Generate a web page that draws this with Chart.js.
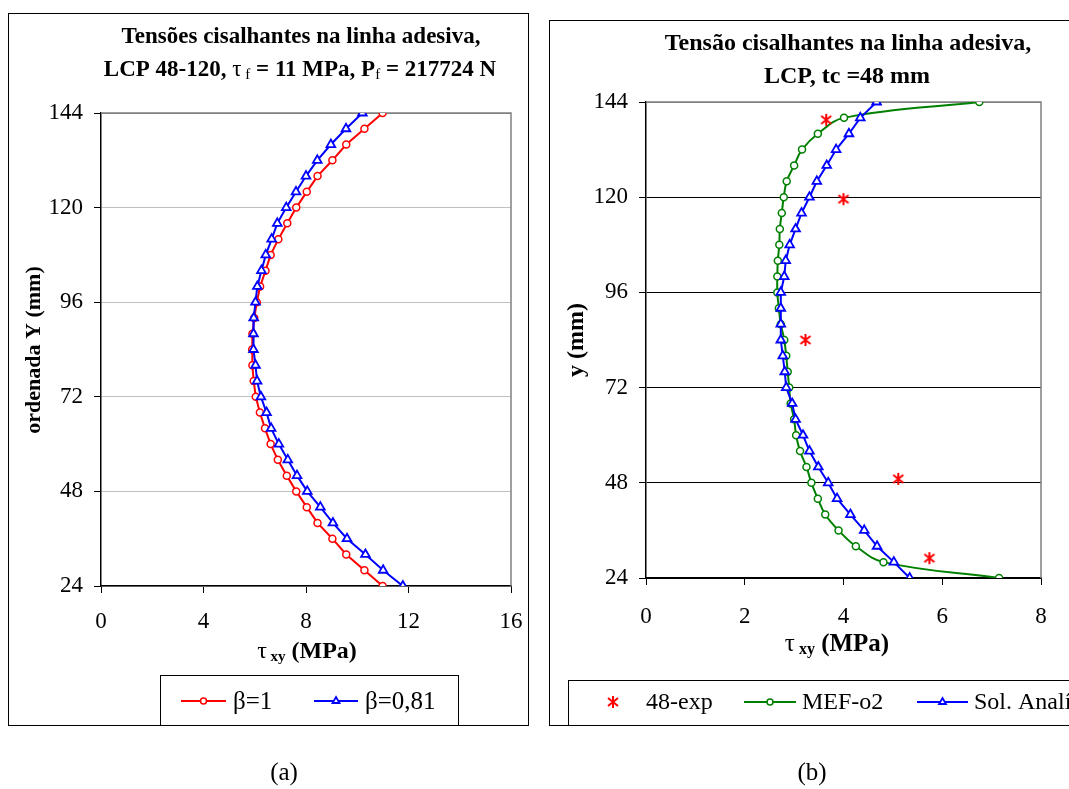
<!DOCTYPE html>
<html>
<head>
<meta charset="utf-8">
<script src="https://cdn.jsdelivr.net/npm/chart.js@4.4.0/dist/chart.umd.min.js"></script>
<style>
  html, body { margin: 0; padding: 0; background: #fff; width: 1069px; height: 789px; overflow: hidden; }
  .frame { position: absolute; border: 1.5px solid #000; box-sizing: border-box; }
  canvas { position: absolute; top: 0; }
  .cap { position: absolute; top: 758px; width: 100px; text-align: center; font: 25px "Liberation Serif", serif; }
</style>
</head>
<body>
<div class="frame" style="left:8px;top:13px;width:521px;height:713px"></div>
<div class="frame" style="left:549px;top:20px;width:600px;height:706px"></div>
<canvas id="chartA" width="540" height="789" style="left:0"></canvas>
<canvas id="chartB" width="529" height="789" style="left:540px"></canvas>
<div class="cap" style="left:234px">(a)</div>
<div class="cap" style="left:762px">(b)</div>

<script>
// ---- data ----
const yTicks = [24, 48, 72, 96, 120, 144];
const xTicksA = [0, 4, 8, 12, 16];
const xTicksB = [0, 2, 4, 6, 8];

// ordinate of each computed point (mm), top to bottom
const yPos = [144, 140, 136, 132, 128, 124, 120, 116, 112, 108, 104, 100, 96, 92, 88, 84,
              80, 76, 72, 68, 64, 60, 56, 52, 48, 44, 40, 36, 32, 28, 24];

// (a) shear stress along the adhesive line, MPa
const tauBeta1 = [10.99, 10.28, 9.57, 9.03, 8.45, 8.03, 7.62, 7.27, 6.92, 6.62, 6.42, 6.21, 6.08, 5.98, 5.91, 5.90,
                  5.91, 5.96, 6.04, 6.20, 6.40, 6.62, 6.90, 7.25, 7.62, 8.03, 8.45, 9.03, 9.57, 10.28, 10.99];
const tauBeta081 = [10.20, 9.56, 8.97, 8.44, 8.00, 7.61, 7.23, 6.88, 6.66, 6.43, 6.26, 6.10, 6.03, 5.96, 5.95, 5.95,
                    6.03, 6.09, 6.24, 6.46, 6.64, 6.94, 7.29, 7.65, 8.05, 8.56, 9.05, 9.60, 10.32, 11.01, 11.78];

// (b)
const tauMef = [6.75, 4.01, 3.48, 3.16, 3.00, 2.85, 2.79, 2.75, 2.71, 2.70, 2.67, 2.66, 2.66, 2.69, 2.73, 2.80,
                2.84, 2.87, 2.90, 2.93, 3.00, 3.04, 3.12, 3.25, 3.35, 3.48, 3.63, 3.90, 4.25, 4.81, 7.15];
const tauSol = [4.67, 4.34, 4.11, 3.85, 3.66, 3.46, 3.31, 3.15, 3.03, 2.91, 2.83, 2.80, 2.73, 2.73, 2.73, 2.73,
                2.77, 2.81, 2.84, 2.96, 3.03, 3.18, 3.31, 3.49, 3.69, 3.87, 4.14, 4.42, 4.68, 5.02, 5.34];
const yExp = [139.5, 119.5, 84, 49, 29];
const tauExp = [3.65, 4.00, 3.23, 5.11, 5.74];

// ---- helpers ----
const SERIF = '"Liberation Serif", "Times New Roman", serif';
const font = (size, bold) => (bold ? 'bold ' : '') + size + 'px ' + SERIF;
const pts = (xs, ys) => ys.map((y, i) => ({ x: xs[i], y: y }));

// excel style asterisk marker
function starMarker(color) {
  const c = document.createElement('canvas');
  c.width = 14; c.height = 14;
  const g = c.getContext('2d');
  g.strokeStyle = color; g.lineWidth = 2;
  g.beginPath();
  g.moveTo(7, 1); g.lineTo(7, 13);
  g.moveTo(2, 3); g.lineTo(12, 11);
  g.moveTo(2, 11); g.lineTo(12, 3);
  g.stroke();
  return c;
}

function drawRuns(ctx, runs, x, y, rot) {
  ctx.save();
  ctx.translate(x, y);
  if (rot) ctx.rotate(rot);
  let w = 0;
  runs.forEach(r => { ctx.font = r.f; w += ctx.measureText(r.t).width; });
  let cx = -w / 2;
  ctx.fillStyle = '#000';
  ctx.textAlign = 'left';
  ctx.textBaseline = 'alphabetic';
  runs.forEach(r => {
    ctx.font = r.f;
    ctx.fillText(r.t, cx, r.dy || 0);
    cx += ctx.measureText(r.t).width;
  });
  ctx.restore();
}

// titles, axis titles, framed legend, gray plot border
const decorPlugin = {
  id: 'decor',
  beforeDatasetsDraw(chart) {
    const a = chart.chartArea, ctx = chart.ctx;
    ctx.save();
    ctx.strokeStyle = '#808080';
    ctx.lineWidth = 1.5;
    ctx.beginPath();
    ctx.moveTo(a.left, a.top); ctx.lineTo(a.right, a.top); ctx.lineTo(a.right, a.bottom);
    ctx.stroke();
    ctx.restore();
  },
  afterDraw(chart, args, opts) {
    const ctx = chart.ctx;
    (opts.texts || []).forEach(t => drawRuns(ctx, t.runs, t.x, t.y, t.rot));

    const lg = opts.legend;
    ctx.save();
    ctx.strokeStyle = '#000';
    ctx.lineWidth = 1;
    ctx.strokeRect(lg.box[0] + 0.5, lg.box[1] + 0.5, lg.box[2] - lg.box[0], lg.box[3] - lg.box[1]);
    chart.data.datasets.forEach((ds, i) => {
      const it = lg.items[i];
      if (ds.showLine) {
        ctx.strokeStyle = ds.borderColor;
        ctx.lineWidth = ds.borderWidth;
        ctx.beginPath();
        ctx.moveTo(it.x0, lg.y); ctx.lineTo(it.x1, lg.y);
        ctx.stroke();
      }
      ctx.fillStyle = ds.pointBackgroundColor;
      ctx.strokeStyle = ds.pointBorderColor;
      ctx.lineWidth = ds.pointBorderWidth;
      Chart.helpers.drawPoint(ctx, {
        pointStyle: ds.pointStyle, radius: ds.legendRadius, rotation: 0, borderWidth: ds.pointBorderWidth
      }, (it.x0 + it.x1) / 2, lg.y);
      ctx.fillStyle = '#000';
      ctx.font = font(lg.size, false);
      ctx.textAlign = 'left';
      ctx.textBaseline = 'middle';
      ctx.fillText(ds.label, it.tx, lg.y + 1);
    });
    ctx.restore();
  }
};

function yScale(width, gridColor) {
  return {
    type: 'linear',
    min: yTicks[0],
    max: yTicks[yTicks.length - 1],
    afterBuildTicks: s => { s.ticks = yTicks.map(v => ({ value: v })); },
    afterFit: s => { s.width = width; },
    grid: {
      color: c => (c.tick && c.tick.value === yTicks[yTicks.length - 1]) ? '#808080' : gridColor,
      lineWidth: 1,
      tickLength: 7,
      tickColor: '#000'
    },
    border: { color: '#000', width: 1.5 },
    ticks: { color: '#000', font: { family: SERIF, size: 23 }, padding: 11 }
  };
}

function xScale(ticks, height, pad) {
  return {
    type: 'linear',
    min: ticks[0],
    max: ticks[ticks.length - 1],
    afterBuildTicks: s => { s.ticks = ticks.map(v => ({ value: v })); },
    afterFit: s => { s.height = height; },
    grid: { drawOnChartArea: false, tickLength: 7, tickColor: '#000' },
    border: { color: '#000', width: 1.5 },
    ticks: { color: '#000', font: { family: SERIF, size: 23 }, padding: pad, maxRotation: 0 }
  };
}

const common = {
  responsive: false,
  animation: false,
  devicePixelRatio: 1
};

// ---- (a) ----
new Chart(document.getElementById('chartA'), {
  type: 'scatter',
  data: {
    datasets: [{
      label: 'β=1',
      data: pts(tauBeta1, yPos),
      showLine: true,
      borderColor: '#ff0000',
      borderWidth: 2,
      pointStyle: 'circle',
      pointRadius: 3.5,
      legendRadius: 3,
      pointBorderWidth: 1.5,
      pointBorderColor: '#ff0000',
      pointBackgroundColor: '#ffffff',
      order: 2
    }, {
      label: 'β=0,81',
      data: pts(tauBeta081, yPos),
      showLine: true,
      borderColor: '#0000ff',
      borderWidth: 2,
      pointStyle: 'triangle',
      pointRadius: 5,
      legendRadius: 4,
      pointBorderWidth: 1.8,
      pointBorderColor: '#0000ff',
      pointBackgroundColor: '#ffffff',
      order: 1
    }]
  },
  options: Object.assign({}, common, {
    layout: { padding: { top: 113, right: 29, left: 0, bottom: 0 } },
    scales: {
      x: xScale(xTicksA, 789 - 586, 15),
      y: yScale(101, '#c0c0c0')
    },
    plugins: {
      legend: { display: false },
      tooltip: { enabled: false },
      decor: {
        texts: [
          { x: 301, y: 43, runs: [{ t: 'Tensões cisalhantes na linha adesiva,', f: font(23, true) }] },
          { x: 300, y: 76, runs: [
            { t: 'LCP 48-120, ', f: font(23, true) },
            { t: 'τ', f: font(23, false) },
            { t: ' f', f: font(15, false), dy: 3 },
            { t: ' = 11 MPa, P', f: font(23, true) },
            { t: 'f', f: font(15, false), dy: 3 },
            { t: ' = 217724 N', f: font(23, true) }
          ] },
          { x: 307, y: 658, runs: [
            { t: 'τ', f: font(24, false) },
            { t: ' xy', f: font(15, true), dy: 3 },
            { t: ' (MPa)', f: font(24, true) }
          ] },
          { x: 40, y: 350, rot: -Math.PI / 2, runs: [{ t: 'ordenada Y (mm)', f: font(22, true) }] }
        ],
        legend: {
          box: [160, 675, 458, 725],
          y: 701,
          size: 25,
          items: [{ x0: 181, x1: 226, tx: 233 }, { x0: 314, x1: 358, tx: 365 }]
        }
      }
    }
  }),
  plugins: [decorPlugin]
});

// ---- (b) ----
new Chart(document.getElementById('chartB'), {
  type: 'scatter',
  data: {
    datasets: [{
      label: '48-exp',
      data: pts(tauExp, yExp),
      showLine: false,
      borderColor: '#ff0000',
      borderWidth: 0,
      pointStyle: starMarker('#ff0000'),
      pointRadius: 6,
      legendRadius: 6,
      pointBorderWidth: 0,
      pointBorderColor: '#ff0000',
      pointBackgroundColor: '#ff0000',
      order: 0
    }, {
      label: 'MEF-o2',
      data: pts(tauMef, yPos),
      showLine: true,
      tension: 0.4,
      borderColor: '#008000',
      borderWidth: 2,
      pointStyle: 'circle',
      pointRadius: 3.5,
      legendRadius: 3,
      pointBorderWidth: 1.5,
      pointBorderColor: '#008000',
      pointBackgroundColor: '#ffffff',
      order: 2
    }, {
      label: 'Sol. Analítica',
      data: pts(tauSol, yPos),
      showLine: true,
      borderColor: '#0000ff',
      borderWidth: 2,
      pointStyle: 'triangle',
      pointRadius: 5,
      legendRadius: 4,
      pointBorderWidth: 1.8,
      pointBorderColor: '#0000ff',
      pointBackgroundColor: '#ffffff',
      order: 1
    }]
  },
  options: Object.assign({}, common, {
    layout: { padding: { top: 102, right: 28, left: 0, bottom: 0 } },
    scales: {
      x: xScale(xTicksB, 789 - 578, 18),
      y: yScale(106, '#000000')
    },
    plugins: {
      legend: { display: false },
      tooltip: { enabled: false },
      decor: {
        texts: [
          { x: 308, y: 50, runs: [{ t: 'Tensão cisalhantes na linha adesiva,', f: font(24, true) }] },
          { x: 307, y: 83, runs: [{ t: 'LCP, tc =48 mm', f: font(24, true) }] },
          { x: 297, y: 651, runs: [
            { t: 'τ', f: font(25, false) },
            { t: ' xy', f: font(16, true), dy: 3 },
            { t: ' (MPa)', f: font(25, true) }
          ] },
          { x: 43, y: 340, rot: -Math.PI / 2, runs: [{ t: 'y (mm)', f: font(24, true) }] }
        ],
        legend: {
          box: [28, 680, 640, 725],
          y: 702,
          size: 24,
          items: [{ x0: 63, x1: 83, tx: 106 }, { x0: 204, x1: 256, tx: 262 }, { x0: 377, x1: 428, tx: 434 }]
        }
      }
    }
  }),
  plugins: [decorPlugin]
});
</script>
</body>
</html>
